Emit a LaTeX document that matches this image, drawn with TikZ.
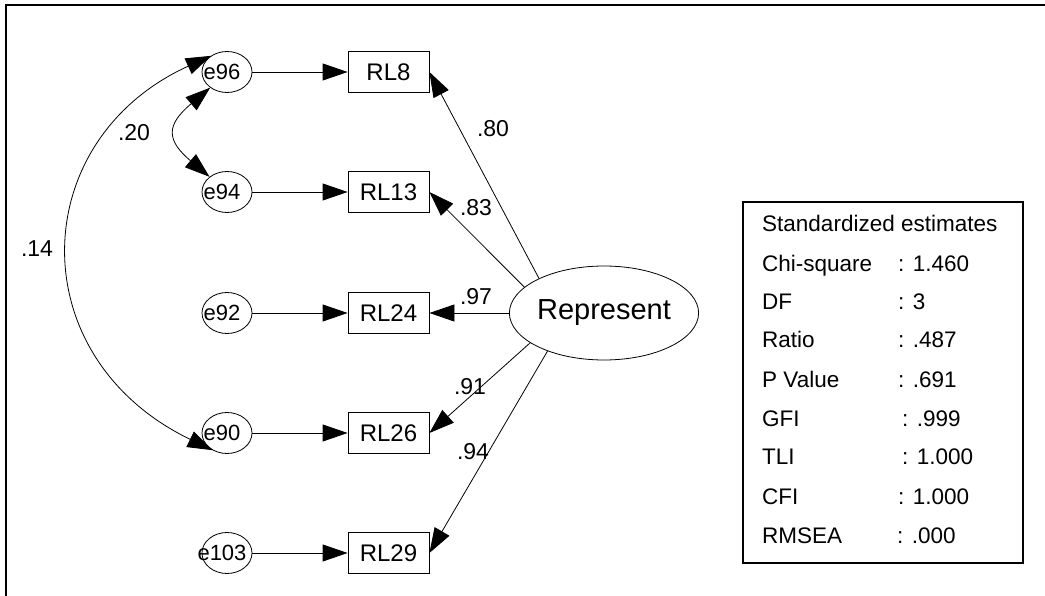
\documentclass[tikz,border=0pt]{standalone}
\usepackage{fontspec}
\setmainfont{Liberation Sans}
\usetikzlibrary{arrows.meta,shapes.geometric}

\tikzset{
  errvar/.style={draw, ellipse, line width=0.8pt, minimum width=50pt, minimum height=41pt, inner sep=0pt},
  errtext/.style={inner sep=0pt, font=\fontsize{22}{26}\selectfont},
  obsvar/.style={draw, rectangle, line width=0.8pt, minimum width=81pt, minimum height=41pt, inner sep=0pt, font=\fontsize{24}{28}\selectfont},
  latvar/.style={draw, ellipse, line width=0.8pt, minimum width=186pt, minimum height=94pt, inner sep=0pt, font=\fontsize{29}{34}\selectfont},
  coef/.style={inner sep=0pt, font=\fontsize{23}{27}\selectfont},
  arr/.style={line width=0.8pt, -{Triangle[length=25pt,width=17pt]}},
  covar/.style={line width=0.8pt, {Triangle[length=25pt,width=17pt]}-{Triangle[length=25pt,width=17pt]}},
  fitrow/.style={anchor=base west, inner sep=0pt, font=\fontsize{22.5}{27}\selectfont}
}

\begin{document}
\begin{tikzpicture}[x=1pt,y=-1pt]
    \useasboundingbox (0,0) rectangle (1045,596);
    \draw[line width=2pt] (6,596) -- (6,5) -- (1045,5);

    \foreach \e/\rl/\y in {96/8/72,94/13/192,92/24/313,90/26/433,103/29/553}
    {
      \node[errvar] (e\e) at (227,\y) {};
      \node[errtext] (te\e) at (222,\y) {e\e};
      \node[obsvar] (RL\rl) at (388.5,\y) {RL\rl};
      \draw[arr] (e\e) -- (RL\rl);
    }

    \node[latvar] (rep) at (604,313) {Represent};

    \foreach \rl/\ang in {8/152,13/162,24/180,26/202,29/214}
    \draw[arr] (rep.\ang) -- (RL\rl.east);

    \node[coef] (c80) at (493,129) {.80};
    \node[coef] (c83) at (476,208) {.83};
    \node[coef] (c97) at (476,297) {.97};
    \node[coef] (c91) at (470,387) {.91};
    \node[coef] (c94) at (473,452) {.94};

    % covariances
    \draw[covar] (e96.223) .. controls (166,125) and (166,140) .. (e94.139);
    \draw[covar] (e96.135) .. controls (26,140) and (20,357) .. (e90.230);
    \node[coef] (c20) at (134,133) {.20};
    \node[coef] (c14) at (37,249) {.14};

    % fit box
    \node[draw, line width=1.6pt, anchor=north west, minimum width=280pt, minimum height=361pt, inner sep=0pt] (fitbox) at (742,201) {};
    \node[fitrow] (fithead) at (762,232) {Standardized estimates};
    \foreach \lab/\val/\cx/\by [count=\i] in {Chi-square/: 1.460/898/272,DF/: 3/898/310,Ratio/: .487/898/348,P Value/: .691/898/387,GFI/: .999/902/426,TLI/: 1.000/902/464,CFI/: 1.000/898/504,RMSEA/: .000/897/543}
    {
      \node[fitrow] (lab\i) at (762,\by) {\lab};
      \node[fitrow] (val\i) at (\cx,\by) {\val};
    }
\end{tikzpicture}
\end{document}
